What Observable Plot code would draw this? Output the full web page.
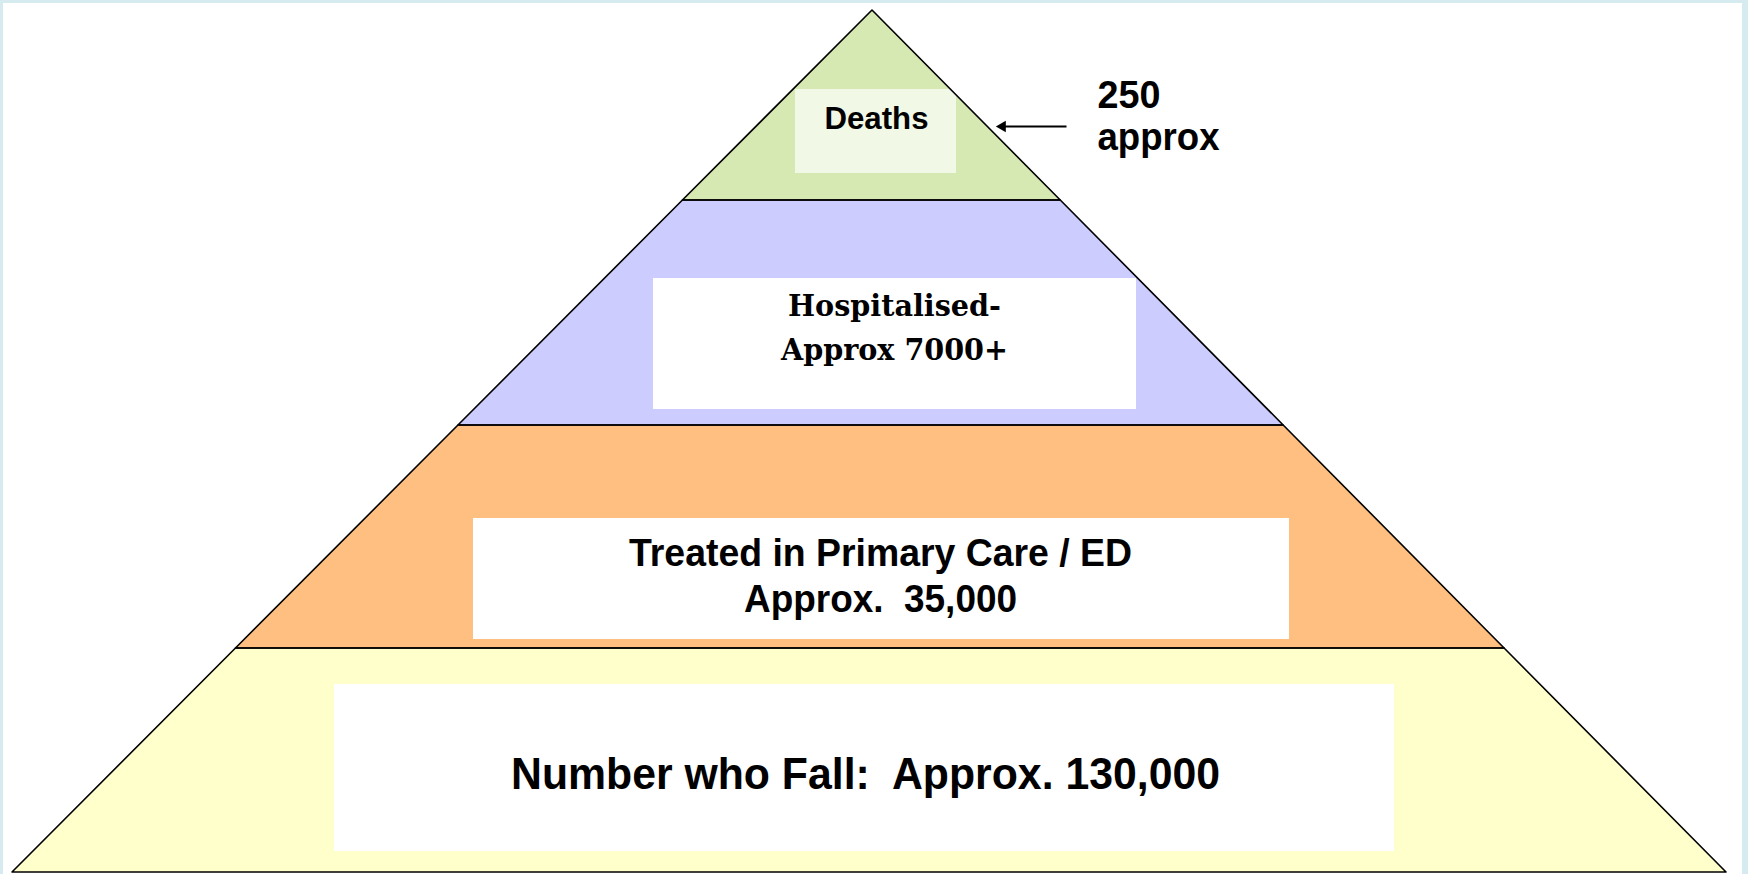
<!DOCTYPE html>
<html><head><meta charset="utf-8">
<script src="https://cdn.jsdelivr.net/npm/d3@7"></script>
<script src="https://cdn.jsdelivr.net/npm/@observablehq/plot@0.6"></script>
<style>
html,body{margin:0;padding:0;background:#fff;}
#wrap{position:relative;width:1748px;height:874px;overflow:hidden;}
#frame{position:absolute;left:0;top:0;width:1748px;height:874px;box-sizing:border-box;border-top:3px solid #d5ebf0;border-left:3px solid #d5ebf0;border-right:6px solid #d5ebf0;pointer-events:none;}
svg{display:block;}
</style></head><body><div id="wrap"><div id="frame"></div></div>
<script>
// ---- data ----
const tiers = ["Deaths", "Hospitalised", "Treated in Primary Care / ED", "Number who Fall"];
const counts = [250, 7000, 35000, 130000];
const labelLines = [
  ["Deaths"],
  ["Hospitalised-", "Approx 7000+"],
  ["Treated in Primary Care / ED", "Approx.  35,000"],
  ["Number who Fall:  Approx. 130,000"]
];
const tierColors = ["#d7e9b2", "#ccccff", "#ffbf80", "#ffffcc"];
const calloutLines = ["250", "approx"];

// ---- layout (pixels) ----
const W = 1748, H = 874;
const apex = {x: 872, y: 10};
const base = {y: 872, x1: 12, x2: 1726};
const tierEdges = [10, 200, 425, 648, 872];
const boxes = [
  {x1: 795, x2: 956, y1: 89, y2: 173, fill: "#ffffff", op: 0.68},
  {x1: 653, x2: 1136, y1: 278, y2: 409, fill: "#ffffff", op: 1},
  {x1: 473, x2: 1289, y1: 518, y2: 639, fill: "#ffffff", op: 1},
  {x1: 334, x2: 1394, y1: 684, y2: 851, fill: "#ffffff", op: 1}
];
const textStyle = [
  {x: 876, ys: [118.5], size: 32, serif: false},
  {x: 894, ys: [306, 350], size: 30, serif: true},
  {x: 880, ys: [553, 599], size: 39, serif: false},
  {x: 865, ys: [774], size: 45, serif: false}
];
// rendered widths of each text line
const lineWidths = {
  "Deaths": 104,
  "Hospitalised-": 213,
  "Approx 7000+": 227,
  "Treated in Primary Care / ED": 503,
  "Approx.  35,000": 273,
  "Number who Fall:  Approx. 130,000": 709,
  "250": 63,
  "approx": 122
};
const callout = {x: 1097, ys: [95, 137.5], size: 38};
const arrow = {x1: 1066, x2: 1003, y: 126, tipX: 993};

function edgeX(y, side) {
  const t = (y - apex.y) / (base.y - apex.y);
  return apex.x + ((side < 0 ? base.x1 : base.x2) - apex.x) * t;
}

const areaData = tiers.flatMap((tier, i) => [tierEdges[i], tierEdges[i + 1]].map(y => ({
  tier, y, x1: edgeX(y, -1), x2: edgeX(y, 1)
})));
const boxData = tiers.map((tier, i) => ({tier, count: counts[i], ...boxes[i]}));
const textData = tiers.flatMap((tier, i) => labelLines[i].map((line, j) => ({
  tier, text: line, x: textStyle[i].x, y: textStyle[i].ys[j], size: textStyle[i].size, serif: textStyle[i].serif
})));
const calloutData = calloutLines.map((t, j) => ({text: t, x: callout.x, y: callout.ys[j]}));

const chart = Plot.plot({
  width: W, height: H,
  margin: 0,
  x: {domain: [0, W], range: [0, W], axis: null},
  y: {domain: [0, H], range: [0, H], axis: null},
  color: {domain: tiers, range: tierColors},
  style: {background: "transparent", overflow: "visible"},
  marks: [
    Plot.areaX(areaData, {y: "y", x1: "x1", x2: "x2", z: "tier", fill: "tier", curve: "linear"}),
    Plot.rect(boxData, {x1: "x1", x2: "x2", y1: "y1", y2: "y2", fill: "fill", fillOpacity: "op"}),
    Plot.areaX(areaData, {y: "y", x1: "x1", x2: "x2", z: "tier", fill: "none", stroke: "#000", strokeWidth: 1.6, curve: "linear"}),
    Plot.text(textData.filter(d => !d.serif), {x: "x", y: "y", text: "text", fontSize: "size", fontFamily: "'Liberation Sans', Arial, sans-serif", fontWeight: "bold", fill: "#000", textAnchor: "middle", lineAnchor: "middle"}),
    Plot.text(textData.filter(d => d.serif), {x: "x", y: "y", text: "text", fontSize: "size", fontFamily: "'DejaVu Serif', serif", fontWeight: "bold", fill: "#000", textAnchor: "middle", lineAnchor: "middle"}),
    Plot.text(calloutData, {x: "x", y: "y", text: "text", fontSize: callout.size, fontFamily: "'Liberation Sans', Arial, sans-serif", fontWeight: "bold", fill: "#000", textAnchor: "start", lineAnchor: "middle"}),
    Plot.link([arrow], {x1: "x1", x2: "x2", y1: "y", y2: "y", stroke: "#000", strokeWidth: 2}),
    Plot.dot([arrow], {x: d => d.tipX + 9, y: "y", symbol: "triangle2", r: 5.5, rotate: -90, fill: "#000", stroke: "none"})
  ]
});
chart.querySelectorAll("text").forEach(t => {
  const w = lineWidths[t.textContent];
  if (w) {
    t.setAttribute("textLength", w);
    t.setAttribute("lengthAdjust", "spacingAndGlyphs");
  }
});
document.getElementById("wrap").insertBefore(chart, document.getElementById("frame"));
</script>
</body></html>
